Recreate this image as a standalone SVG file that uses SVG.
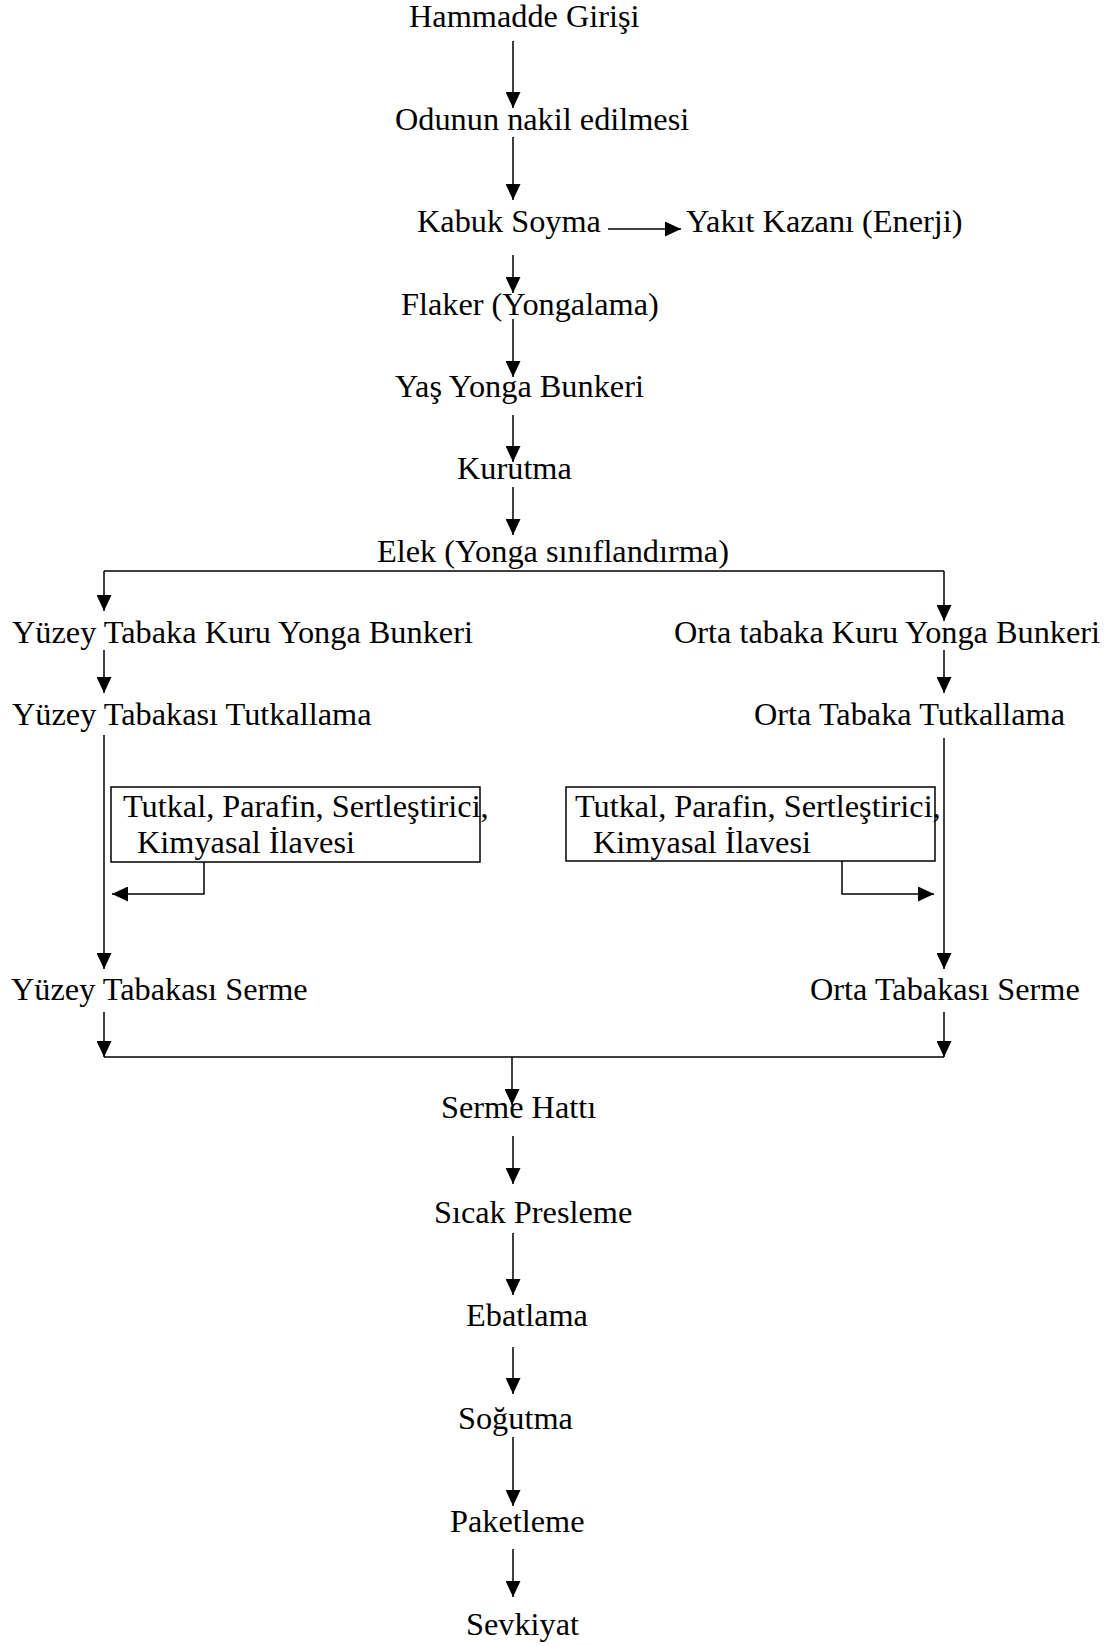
<svg xmlns="http://www.w3.org/2000/svg" width="1114" height="1646" viewBox="0 0 1114 1646">
<style>
text{font-family:"Liberation Serif","Times New Roman",serif;font-size:32.3px;fill:#000}
.c{fill:none;stroke:#000;stroke-width:1.5}
.box{fill:#fff;stroke:#000;stroke-width:1.5}
</style>
<defs>
<marker id="ah" markerUnits="userSpaceOnUse" markerWidth="16" markerHeight="15" refX="16" refY="7.5" orient="auto" viewBox="0 0 16 15">
<path d="M0,0 L16,7.5 L0,15 z" fill="#000"/>
</marker>
</defs>
<rect width="1114" height="1646" fill="#fff"/>
<g id="connectors">
<path class="c" d="M513,41 V108" marker-end="url(#ah)"/>
<path class="c" d="M513,137 V200" marker-end="url(#ah)"/>
<path class="c" d="M608,229 H681" marker-end="url(#ah)"/>
<path class="c" d="M513,255 V293" marker-end="url(#ah)"/>
<path class="c" d="M513,319 V377" marker-end="url(#ah)"/>
<path class="c" d="M513,415 V462" marker-end="url(#ah)"/>
<path class="c" d="M513,487 V535" marker-end="url(#ah)"/>
<path class="c" d="M104,571 H944"/>
<path class="c" d="M104,571 V611" marker-end="url(#ah)"/>
<path class="c" d="M944,571 V621" marker-end="url(#ah)"/>
<path class="c" d="M104,650 V693" marker-end="url(#ah)"/>
<path class="c" d="M944,650 V693" marker-end="url(#ah)"/>
<path class="c" d="M104,735 V969" marker-end="url(#ah)"/>
<path class="c" d="M944,738 V969" marker-end="url(#ah)"/>
<path class="c" d="M204,862 V894 H112" marker-end="url(#ah)"/>
<path class="c" d="M842,861 V894 H934" marker-end="url(#ah)"/>
<path class="c" d="M104,1012 V1057" marker-end="url(#ah)"/>
<path class="c" d="M944,1012 V1057" marker-end="url(#ah)"/>
<path class="c" d="M104,1057 H944"/>
<path class="c" d="M512,1057 V1105" marker-end="url(#ah)"/>
<path class="c" d="M513,1136 V1184" marker-end="url(#ah)"/>
<path class="c" d="M513,1233 V1295" marker-end="url(#ah)"/>
<path class="c" d="M513,1347 V1394" marker-end="url(#ah)"/>
<path class="c" d="M513,1437 V1506" marker-end="url(#ah)"/>
<path class="c" d="M513,1549 V1597" marker-end="url(#ah)"/>
</g>
<g id="n1"><text x="409" y="27">Hammadde Girişi</text></g>
<g id="n2"><text x="395" y="130">Odunun nakil edilmesi</text></g>
<g id="n3"><text x="417" y="232">Kabuk Soyma</text></g>
<g id="n4"><text x="686" y="232">Yakıt Kazanı (Enerji)</text></g>
<g id="n5"><text x="401" y="315">Flaker (Yongalama)</text></g>
<g id="n6"><text x="395" y="397">Yaş Yonga Bunkeri</text></g>
<g id="n7"><text x="457" y="479">Kurutma</text></g>
<g id="n8"><text x="377" y="562">Elek (Yonga sınıflandırma)</text></g>
<g id="n9"><text x="12" y="643">Yüzey Tabaka Kuru Yonga Bunkeri</text></g>
<g id="n10"><text x="674" y="643">Orta tabaka Kuru Yonga Bunkeri</text></g>
<g id="n11"><text x="12" y="725">Yüzey Tabakası Tutkallama</text></g>
<g id="n12"><text x="754" y="725">Orta Tabaka Tutkallama</text></g>
<g id="n13"><rect class="box" x="111" y="787" width="369" height="75"/><text x="123" y="817">Tutkal, Parafin, Sertleştirici,</text><text x="137" y="853">Kimyasal İlavesi</text></g>
<g id="n14"><rect class="box" x="566" y="787" width="369" height="74"/><text x="575" y="817">Tutkal, Parafin, Sertleştirici,</text><text x="593" y="853">Kimyasal İlavesi</text></g>
<g id="n15"><text x="11" y="1000">Yüzey Tabakası Serme</text></g>
<g id="n16"><text x="810" y="1000">Orta Tabakası Serme</text></g>
<g id="n17"><text x="441" y="1118">Serme Hattı</text></g>
<g id="n18"><text x="434" y="1223">Sıcak Presleme</text></g>
<g id="n19"><text x="466" y="1326">Ebatlama</text></g>
<g id="n20"><text x="458" y="1429">Soğutma</text></g>
<g id="n21"><text x="450" y="1532">Paketleme</text></g>
<g id="n22"><text x="466" y="1635">Sevkiyat</text></g>
</svg>
